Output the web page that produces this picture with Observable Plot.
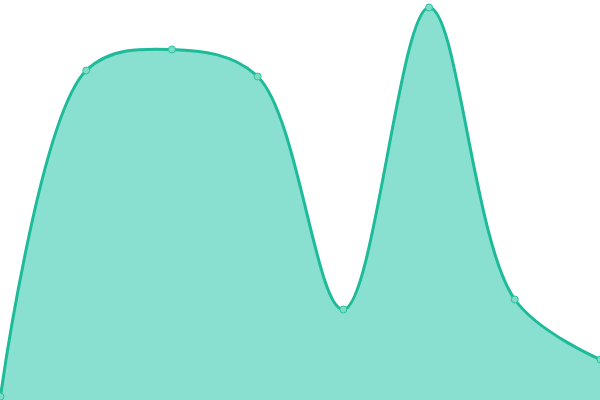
<!DOCTYPE html>
<html><head><meta charset="utf-8">
<script src="https://cdn.jsdelivr.net/npm/d3@7"></script>
<script src="https://cdn.jsdelivr.net/npm/@observablehq/plot@0.6"></script>
<style>body{margin:0;background:#fff}</style>
</head><body>
<div id="chart"></div>
<script>
const xs = [0, 1, 2, 3, 4, 5, 6, 7];
const values = [4, 330, 351, 324, 91, 393, 101, 41];
const data = xs.map((x, i) => ({x, y: values[i]}));
const chart = Plot.plot({
  width: 600, height: 400,
  margin: 0,
  x: {domain: [0, 7], axis: null},
  y: {domain: [0, 400], axis: null},
  marks: [
    Plot.areaY(data, {x: "x", y: "y", curve: "catmull-rom", fill: "#8ae0d0"}),
    Plot.lineY(data, {x: "x", y: "y", curve: "catmull-rom", stroke: "#1dbb99", strokeWidth: 3}),
    Plot.dot(data, {x: "x", y: "y", r: 3.5, fill: "#7ddcc6", stroke: "#2cc29f", strokeWidth: 1})
  ]
});
document.getElementById("chart").append(chart);
</script>
</body></html>
